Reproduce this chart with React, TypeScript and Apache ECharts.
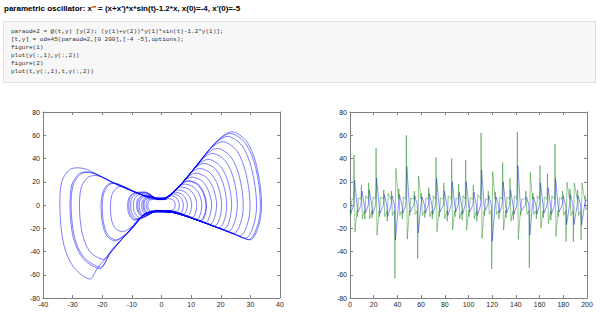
import React, { useEffect, useRef } from "react";
import * as echarts from "echarts";

// ---------- texts ----------
const titleText = "parametric oscillator: x'' = (x+x')*x*sin(t)-1.2*x, x(0)=-4, x'(0)=-5";
const codeLines = [
  "paraode2 = @(t,y) [y(2); (y(1)+y(2))*y(1)*sin(t)-1.2*y(1)];",
  "[t,y] = ode45(paraode2,[0 200],[-4 -5],options);",
  "figure(1)",
  "plot(y(:,1),y(:,2))",
  "figure(2)",
  "plot(t,y(:,1),t,y(:,2))",
];

// ---------- axis ranges ----------
const phaseXRange = [-40, 40, 10];
const timeRange = [0, 200, 20];
const valueRange = [-80, 80, 20];

// ---------- phase plot: lobes (x, x') ----------
const rightLobes: number[][][] = [
  [[1,5.8],[3.5,9.5],[7.4,20],[12.2,34.7],[18.6,54.8],[23.7,63],[28.8,54.5],[32.2,32.8],[33.8,0],[33.3,-13],[31.6,-25.8],[29.9,-30],[24.3,-24.6],[12.8,-13.7],[4,-6.5],[1,-5.8]],
  [[1,5.8],[3.5,9.5],[7.4,20],[11.9,33.8],[18.2,53.5],[23.2,61.5],[28.3,53.2],[31.8,32],[33.4,0],[32.9,-12.9],[31.2,-25.5],[29.6,-29.7],[24,-24.3],[12.7,-13.6],[4,-6.5],[1,-5.8]],
  [[1,5.8],[3.5,9.5],[7.4,20],[11.5,32.5],[17.5,51.3],[22.3,59],[27.2,51],[30.5,30.7],[32.1,0],[31.6,-12.4],[30,-24.5],[28.4,-28.5],[23.1,-23.4],[12.2,-13.1],[4,-6.5],[1,-5.8]],
  [[1,5.8],[3.5,9.5],[7.4,20],[10.6,30],[16.1,47.4],[20.6,54.5],[25.3,47.1],[28.4,28.3],[29.9,0],[29.5,-11.5],[28,-22.8],[26.5,-26.6],[21.5,-21.9],[11.4,-12.3],[4,-6.5],[1,-5.8]],
  [[1,5.8],[3.5,9.5],[9.6,26.8],[14.6,42.4],[18.7,48.7],[23.2,42.1],[26.2,25.3],[27.6,0],[27.2,-10.6],[25.8,-21.1],[24.4,-24.5],[19.9,-20.4],[10.5,-11.5],[4,-6.5],[1,-5.8]],
  [[1,5.8],[3.5,9.5],[8.8,24.4],[13.4,38.6],[17.2,44.4],[21.4,38.4],[24.3,23.1],[25.6,0],[25.2,-9.9],[23.9,-19.5],[22.7,-22.7],[18.4,-19],[9.7,-10.7],[4,-6.5],[1,-5.8]],
  [[1,5.8],[3.5,9.5],[7.9,21.6],[12.1,34.2],[15.7,39.3],[19.7,34],[22.4,20.4],[23.7,0],[23.3,-9.1],[22.2,-18.1],[21,-21],[17.1,-17.7],[9,-10.1],[4,-6.5],[1,-5.8]],
  [[1,5.8],[3.5,9.5],[7.3,19.7],[11,31.1],[14.3,35.8],[18.2,31],[20.8,18.6],[22,0],[21.7,-8.5],[20.6,-16.8],[19.5,-19.5],[15.8,-16.5],[8.4,-9.4],[4,-6.5],[1,-5.8]],
  [[1,5.8],[3.5,9.5],[6.5,17.3],[9.8,27.4],[12.8,31.5],[16.6,27.2],[19.1,16.4],[20.3,0],[20,-7.8],[19,-15.5],[18,-18],[14.6,-15.4],[7.7,-8.8],[4,-6.5],[1,-5.8]],
  [[1,5.8],[3.5,9.5],[5.7,15.1],[8.7,23.9],[11.5,27.5],[15.1,23.8],[17.5,14.3],[18.6,0],[18.3,-7.2],[17.4,-14.2],[16.5,-16.5],[13.4,-14.2],[7.1,-8.2],[4,-6.5],[1,-5.8]],
  [[1,5.8],[3.5,9.5],[5,13.2],[7.7,20.9],[10.2,24],[13.6,20.8],[15.8,12.5],[16.9,0],[16.6,-6.5],[15.8,-12.9],[15,-15],[12.2,-13.1],[6.4,-7.6],[1,-5.8]],
  [[1,5.5],[4.2,11.6],[6.8,18.3],[9.1,21],[12.2,18.2],[14.2,10.9],[15.2,0],[15,-5.9],[14.2,-11.6],[13.5,-13.5],[10.9,-11.9],[5.8,-7],[1,-5.5]],
  [[1,5.5],[4.1,11.3],[6.6,17.8],[8.9,20.5],[12,17.7],[14,10.7],[15,0],[14.8,-5.8],[14,-11.4],[13.3,-13.3],[10.8,-11.8],[5.7,-6.9],[1,-5.5]],
  [[1,4.8],[3.4,9.9],[5.8,15.7],[7.8,18],[10.7,15.6],[12.7,9.4],[13.6,0],[13.4,-5.2],[12.7,-10.4],[12,-12.1],[9.8,-10.8],[5.2,-6.4],[1,-4.8]],
  [[1,4.8],[2.8,8.5],[4.8,13.5],[6.6,15.5],[9.3,13.4],[11.1,8.1],[11.9,0],[11.7,-4.6],[11.1,-9.1],[10.5,-10.6],[8.6,-9.6],[4.5,-5.8],[1,-4.8]],
  [[1,4.8],[2.5,8],[4,11.3],[5.5,13],[7.9,11.2],[9.5,6.8],[10.2,0],[10,-3.9],[9.5,-7.8],[9,-9.1],[7.3,-8.5],[3.9,-5.4],[1,-4.8]],
  [[1,4.8],[2.2,7.5],[3.3,9.6],[4.6,11],[6.7,9.5],[8.1,5.7],[8.7,0],[8.6,-3.3],[8.1,-6.6],[7.7,-7.7],[6.3,-7.5],[3.3,-5.2],[1,-4.8]],
  [[1,4.8],[2,7],[2.8,8.3],[3.9,9.5],[5.7,8.2],[6.9,4.9],[7.4,0],[7.3,-2.8],[6.9,-5.6],[6.5,-6.6],[5.3,-6.5],[2.8,-5],[1,-4.8]],
  [[1,4.8],[2.4,7],[3.2,8],[4.6,7],[5.6,4.2],[6,0],[5.9,-2.3],[5.6,-4.6],[5.1,-5.4],[3.5,-5.3],[1,-4.8]],
  [[1,4.6],[2.5,5.5],[3.7,4.6],[4.4,2.8],[4.6,0],[4.4,-2.8],[3.6,-4.5],[2.2,-4.8],[1,-4.6]],
];

const leftLobes: number[][][] = [
  [[-1,-5.8],[-5,-6.8],[-11.6,-24.4],[-18.4,-44.4],[-21.8,-55],[-24.1,-63.7],[-29.8,-53],[-33.1,-32.9],[-34.3,0],[-33.7,20],[-31,30.5],[-28,32],[-16,18.6],[-6,8.2],[-1,5.8]],
  [[-1,-5.8],[-5,-6.8],[-11.6,-24.4],[-17.5,-42],[-20.8,-54.8],[-26.5,-46],[-29.8,-28],[-30.9,0],[-30.3,17],[-28,26.5],[-25.5,28.5],[-15,17.6],[-6,8.2],[-1,5.8]],
  [[-1,-5.8],[-5,-6.8],[-11.6,-24.2],[-17.3,-41.5],[-20.5,-53.5],[-26.2,-45],[-29.4,-27.5],[-30.5,0],[-29.9,16.5],[-27.6,26],[-25.2,28.2],[-15,17.6],[-6,8.2],[-1,5.8]],
  [[-1,-5.8],[-5,-6.8],[-11.4,-24],[-16.5,-37.5],[-19.7,-46.7],[-24.2,-40],[-26.8,-24],[-27.7,0],[-27.1,15],[-25,23.5],[-22.5,25.4],[-14,16.6],[-6,8.2],[-1,5.8]],
  [[-1,-5.8],[-5,-6.8],[-10,-20.5],[-13.2,-27.5],[-15.7,-31],[-18.5,-26.5],[-20,-15],[-20.4,0],[-19.8,11],[-18.2,17.5],[-16.3,19],[-10.5,12.9],[-5,7.2],[-1,5.8]],
  [[-1,-5.8],[-5,-6.8],[-9.9,-20.2],[-13,-27],[-15.4,-30],[-18.1,-25.8],[-19.6,-14.6],[-20,0],[-19.4,10.8],[-17.8,17.1],[-16,18.6],[-10.5,12.9],[-5,7.2],[-1,5.8]],
  [[-1,-5.8],[-5,-6.8],[-8.8,-16.5],[-11.3,-21],[-13.2,-23],[-15.8,-19.5],[-17,-11],[-17.2,0],[-16.7,9],[-15.3,14.3],[-13.6,16.1],[-9,11.4],[-5,7.2],[-1,5.8]],
  [[-1,-4.8],[-6.3,-11.1],[-9.1,-13],[-11.1,-7.2],[-11.4,0],[-10.9,6.5],[-9.1,10.6],[-5.7,11.2],[-1,4.8]],
  [[-1,-4.8],[-6.1,-10.6],[-8.8,-12.5],[-10.7,-6.9],[-11,0],[-10.6,6.3],[-8.8,10.3],[-5.5,10.8],[-1,4.8]],
  [[-1,-4.8],[-5.7,-10],[-8.3,-11.8],[-10.1,-6.5],[-10.4,0],[-10,5.9],[-8.3,9.7],[-5.2,10.3],[-1,4.8]],
  [[-1,-4.8],[-5.2,-9.2],[-7.6,-10.8],[-9.2,-5.9],[-9.5,0],[-9.1,5.4],[-7.6,8.9],[-4.8,9.4],[-1,4.8]],
  [[-1,-4.8],[-4.6,-8.1],[-6.7,-9.5],[-8.1,-5.2],[-8.4,0],[-8.1,4.8],[-6.7,7.9],[-4.2,8.4],[-1,4.8]],
  [[-1,-4.8],[-4.4,-7.7],[-6.4,-9.1],[-7.8,-5],[-8,0],[-7.7,4.6],[-6.4,7.6],[-4,8],[-1,4.8]],
  [[-1,-4.8],[-4.1,-7.2],[-6,-8.5],[-7.3,-4.7],[-7.5,0],[-7.2,4.3],[-6,7.1],[-3.8,7.5],[-1,4.8]],
  [[-1,-4.8],[-3.7,-6.5],[-5.4,-7.6],[-6.5,-4.2],[-6.7,0],[-6.4,3.9],[-5.4,6.4],[-3.4,6.7],[-1,4.8]],
  [[-1,-4.8],[-3.4,-6],[-5,-7],[-6,-3.9],[-6.2,0],[-6,3.6],[-5,5.9],[-3.1,6.3],[-1,4.8]],
  [[-1,-4.8],[-3.2,-5.6],[-4.7,-6.6],[-5.7,-3.6],[-5.9,0],[-5.7,3.5],[-4.7,5.7],[-3,6],[-1,4.8]],
  [[-1,-4.8],[-2.9,-5.2],[-4.2,-5.8],[-5,-3.2],[-5.2,0],[-5,3.1],[-4.2,5],[-2.6,5.3],[-1,4.8]],
  [[-1,-4.6],[-2.5,-4.6],[-3.7,-5.2],[-4.5,-2.8],[-4.6,0],[-4.4,2.75],[-3.6,4.5],[-2.3,4.75],[-1,4.6]],
];

// ---------- time series ----------
// one entry per oscillation cycle: time of the x' peak in the right lobe
const cycleT = [3.4, 9.6, 15.8, 22.0, 28.5, 35.0, 41.25, 47.5, 54.2, 60.3, 66.5, 72.6, 79.2, 85.8, 91.7, 97.6, 104.1, 110.6, 116.7, 122.75, 128.8, 135.0, 141.2, 148.4, 154.35, 160.3, 166.65, 173.0, 179.4, 185.6, 192.1, 198.3];
// x' (green) right-lobe peak and following dip
const rPeak = [43, 17, 19, 49, 13, 12, 14, 60, 12, 10, 15, 41, 19, 40, 18, 38.7, 17, 62, 12, 11, 36.5, 23, 63, 12, 10, 34, 27, 52.5, 12, 14, 13, 8];
const rDip = [-23, -12, -12, -26, -10, -9, -9, -29.5, -8, -9, -10, -23, -12, -21.5, -12, -21.5, -12, -28.7, -8, -8, -21.5, -14, -29.6, -8, -8, -20, -16, -27, -9, -9, -9, -4];
// x (blue) right-lobe maximum
const rX = [21.5, 12, 13, 23, 9, 8, 9, 33, 8, 7, 10, 23, 12, 20, 11, 20, 11, 30, 8, 7, 20, 13, 34, 7, 7, 19, 15, 23, 8, 9, 8, 5];
// x' (green) left-lobe trough and following rise
const lPeak = [-10, -12, -11, -10, -14, -63, -12, -9, -46, -11, -12, -10, -14, -10, -13, -10, -14, -9, -55, -12, -11, -13, -9, -54, -12, -11, -13, -10, -31.5, -31.5, -30];
const lRise = [6, 8, 7, 7, 10, 31.5, 7, 6, 25, 6, 8, 6, 8, 6, 8, 6, 9, 5, 28.7, 7, 7, 8, 5, 28, 8, 7, 8, 6, 19.6, 19, 19];
// x (blue) left-lobe minimum
const lX = [-6, -7, -8, -7, -10, -30, -7, -6, -24, -7, -8, -6, -9, -6, -8, -6, -9, -5, -31, -7, -7, -8, -5, -26, -8, -7, -8, -6, -17, -17, -17];
const waistLevel = 5;
const greenStart = [[0, -5], [0.5, -9], [1.6, 5]];
const blueStart = [[0, -4], [0.8, -7]];
const greenEnd = [[200, -2]];
const blueEnd = [[200, 3]];

function buildPhase(): number[][] {
  const pts: number[][] = [];
  for (let i = 0; i < rightLobes.length; i++) {
    pts.push(...rightLobes[i]);
    if (i < leftLobes.length) pts.push(...leftLobes[i]);
  }
  return pts;
}

function buildSeries() {
  const green: number[][] = [...greenStart];
  const blue: number[][] = [...blueStart];
  for (let i = 0; i < cycleT.length; i++) {
    const t = cycleT[i];
    green.push([t - 0.35, waistLevel], [t, rPeak[i]], [t + 0.8, rDip[i]]);
    blue.push([t - 0.35, 0], [t + 0.45, rX[i]]);
    if (i < lPeak.length) {
      green.push([t + 2.55, -waistLevel], [t + 2.9, lPeak[i]], [t + 3.7, lRise[i]]);
      blue.push([t + 2.55, 0], [t + 3.35, lX[i]]);
    }
  }
  green.push(...greenEnd);
  blue.push(...blueEnd);
  return { green, blue };
}

const axisColor = "#808080";
const labelColor = "#262626";
const fontFamily = "'Liberation Sans', Arial, sans-serif";

function axisDef(gridIndex: number, range: number[], position: string, showLabel: boolean) {
  return {
    type: "value",
    gridIndex,
    position,
    min: range[0],
    max: range[1],
    interval: range[2],
    axisLine: { show: true, onZero: false, lineStyle: { color: axisColor, width: 1 } },
    axisTick: { show: true, inside: true, length: 3, lineStyle: { color: axisColor, width: 1 } },
    axisLabel: { show: showLabel, fontSize: 7, color: labelColor, margin: 3, fontFamily },
    splitLine: { show: false },
  };
}

export default function App() {
  const ref = useRef<HTMLDivElement>(null);
  useEffect(() => {
    if (!ref.current) return;
    const chart = echarts.init(ref.current, undefined, { renderer: "svg" });
    const phase = buildPhase();
    const { green, blue } = buildSeries();
    const codeTexts = codeLines.map((line, i) => ({
      type: "text",
      left: 11,
      top: 28 + i * 8,
      style: {
        text: line,
        fill: "#303030",
        fontSize: 6,
        fontFamily: "'Liberation Mono', 'DejaVu Sans Mono', monospace",
      },
      silent: true,
    }));
    chart.setOption({
      animation: false,
      backgroundColor: "#ffffff",
      graphic: [
        {
          type: "text",
          left: 4,
          top: 4,
          style: {
            text: titleText,
            fill: "#000000",
            fontSize: 8,
            fontWeight: "bold",
            fontFamily,
          },
          silent: true,
        },
        {
          type: "rect",
          shape: { x: 3.5, y: 21.5, width: 592, height: 61 },
          style: { fill: "#f7f7f7", stroke: "#e2e2e2", lineWidth: 1 },
          silent: true,
        },
        ...codeTexts,
      ],
      grid: [
        { left: 43, top: 112, width: 237, height: 186, containLabel: false },
        { left: 350, top: 112, width: 237, height: 186, containLabel: false },
      ],
      xAxis: [
        axisDef(0, phaseXRange, "bottom", true),
        axisDef(0, phaseXRange, "top", false),
        axisDef(1, timeRange, "bottom", true),
        axisDef(1, timeRange, "top", false),
      ],
      yAxis: [
        axisDef(0, valueRange, "left", true),
        axisDef(0, valueRange, "right", false),
        axisDef(1, valueRange, "left", true),
        axisDef(1, valueRange, "right", false),
      ],
      series: [
        {
          type: "line",
          xAxisIndex: 0,
          yAxisIndex: 0,
          data: phase,
          symbol: "none",
          smooth: 0.3,
          lineStyle: { width: 0.6, color: "#0000ff", opacity: 0.85 },
          silent: true,
        },
        {
          type: "line",
          xAxisIndex: 2,
          yAxisIndex: 2,
          data: blue,
          symbol: "none",
          lineStyle: { width: 0.6, color: "#0000ff", opacity: 0.75 },
          silent: true,
        },
        {
          type: "line",
          xAxisIndex: 2,
          yAxisIndex: 2,
          data: green,
          symbol: "none",
          lineStyle: { width: 0.6, color: "#008000", opacity: 0.7 },
          silent: true,
        },
      ],
    });
    return () => chart.dispose();
  }, []);
  return (
    <div
      ref={ref}
      style={{ position: "absolute", left: 0, top: 0, width: 600, height: 322 }}
    />
  );
}
